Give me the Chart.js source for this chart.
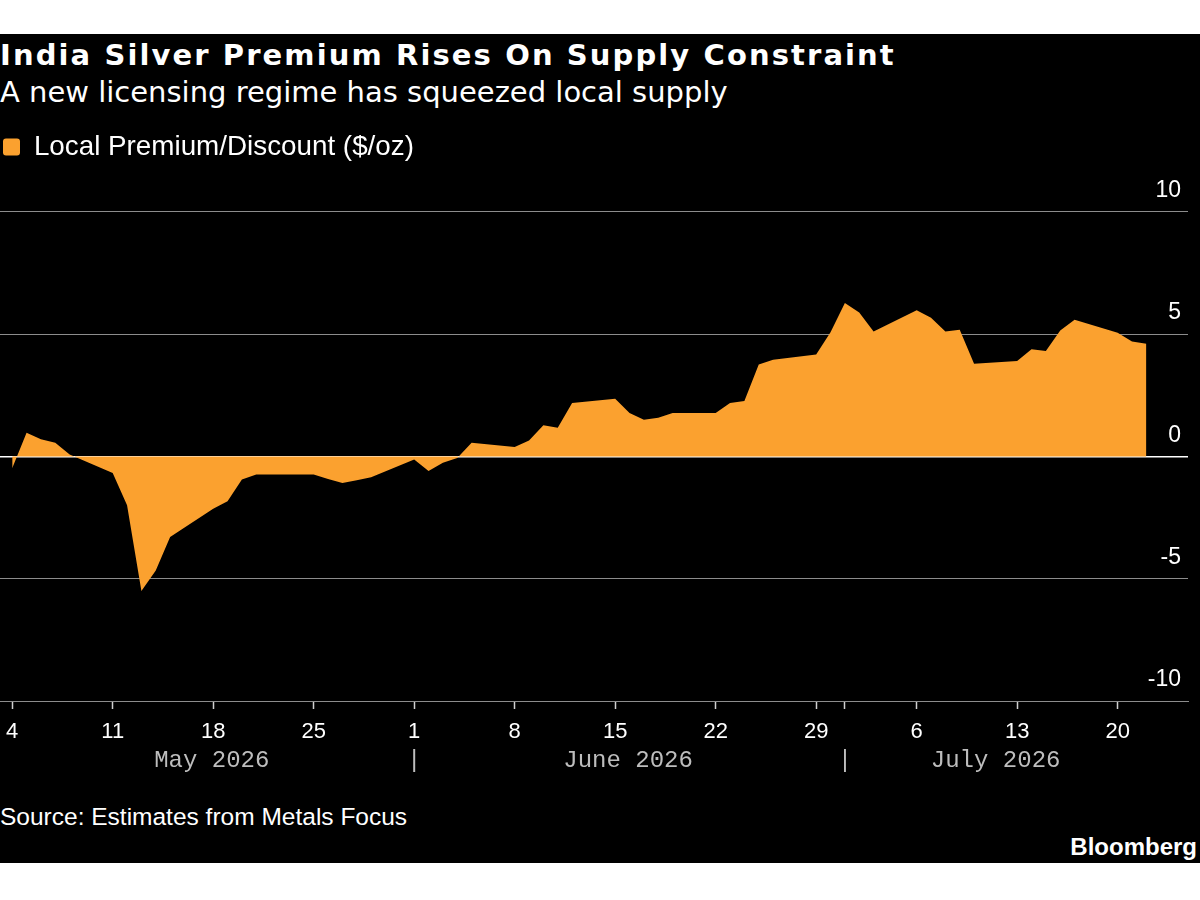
<!DOCTYPE html>
<html>
<head>
<meta charset="utf-8">
<script src="https://cdn.jsdelivr.net/npm/chart.js@4.4.1/dist/chart.umd.min.js"></script>
<style>
  body { margin: 0; width: 1200px; height: 900px; background: #fff; position: relative; overflow: hidden;
         font-family: "Liberation Sans", Arial, sans-serif; }
  #panel { position: absolute; left: 0; top: 34px; width: 1200px; height: 829px; background: #000; }
  .txt { position: absolute; left: 0; color: #fff; line-height: 1; white-space: nowrap; }
  #title { top: 41px; font-family: "DejaVu Sans", sans-serif; font-size: 29px; font-weight: bold; letter-spacing: 2.1px; }
  #subtitle { top: 78px; font-family: "DejaVu Sans", sans-serif; font-size: 29px; }
  #source { top: 805px; font-size: 24.5px; }
  #logo { top: 835px; left: auto; right: 3px; font-size: 24px; font-weight: bold; }
  #chartBox { position: absolute; left: 0; top: 100px; width: 1200px; height: 691px; }
</style>
</head>
<body>
<div id="panel"></div>
<div class="txt" id="title">India Silver Premium Rises On Supply Constraint</div>
<div class="txt" id="subtitle">A new licensing regime has squeezed local supply</div>
<div id="chartBox"><canvas id="chart_premium"></canvas></div>
<div class="txt" id="source">Source: Estimates from Metals Focus</div>
<div class="txt" id="logo">Bloomberg</div>
<script>
// trading days and the local premium/discount ($/oz)
const dates = [
  '2026-05-04','2026-05-05','2026-05-06','2026-05-07','2026-05-08',
  '2026-05-11','2026-05-12','2026-05-13','2026-05-14','2026-05-15',
  '2026-05-18','2026-05-19','2026-05-20','2026-05-21','2026-05-22',
  '2026-05-25','2026-05-26','2026-05-27','2026-05-28','2026-05-29',
  '2026-06-01','2026-06-02','2026-06-03','2026-06-04','2026-06-05',
  '2026-06-08','2026-06-09','2026-06-10','2026-06-11','2026-06-12',
  '2026-06-15','2026-06-16','2026-06-17','2026-06-18','2026-06-19',
  '2026-06-22','2026-06-23','2026-06-24','2026-06-25','2026-06-26',
  '2026-06-29','2026-06-30','2026-07-01','2026-07-02','2026-07-03',
  '2026-07-06','2026-07-07','2026-07-08','2026-07-09','2026-07-10',
  '2026-07-13','2026-07-14','2026-07-15','2026-07-16','2026-07-17',
  '2026-07-20','2026-07-21','2026-07-22'
];
const premium = [
  -0.48, 0.97, 0.70, 0.56, 0.08,
  -0.68, -2.00, -5.50, -4.66, -3.30,
  -2.14, -1.83, -0.94, -0.74, -0.74,
  -0.74, -0.92, -1.09, -0.97, -0.85,
  -0.13, -0.60, -0.26, -0.07, 0.56,
  0.38, 0.65, 1.27, 1.17, 2.18,
  2.36, 1.77, 1.50, 1.58, 1.77,
  1.77, 2.18, 2.26, 3.76, 3.95,
  4.17, 5.08, 6.27, 5.88, 5.11,
  5.97, 5.67, 5.11, 5.18, 3.79,
  3.90, 4.38, 4.31, 5.15, 5.59,
  5.06, 4.70, 4.61
];

// axis ticks (x values are days after May 4, 2026)
const xTickDays = [0, 7, 14, 21, 28, 35, 42, 49, 56, 58, 63, 70, 77];
const xTickLabels = ['4', '11', '18', '25', '1', '8', '15', '22', '29', '', '6', '13', '20'];
const monthDays = [13.9, 28, 42.9, 58, 68.5];
const monthLabels = ['May 2026', '|', 'June 2026', '|', 'July 2026'];
const yTicks = [-10, -5, 0, 5, 10];

const xMin = -0.85;
const xMax = 81.9;

const startDay = Date.UTC(2026, 4, 4);
function dayOf(s) {
  return (Date.parse(s + 'T00:00:00Z') - startDay) / 864e5;
}

const points = dates.map((d, i) => ({ x: dayOf(d), y: premium[i] }));

// extra room between the legend and the plot
const legendGap = {
  id: 'legendGap',
  beforeInit(chart) {
    const fit = chart.legend.fit;
    chart.legend.fit = function () {
      fit.bind(chart.legend)();
      this.height += 41;
    };
  }
};

new Chart(document.getElementById('chart_premium'), {
  type: 'line',
  data: {
    datasets: [{
      label: 'Local Premium/Discount ($/oz)',
      data: points,
      fill: 'origin',
      backgroundColor: '#fba12f',
      borderColor: '#fba12f',
      borderWidth: 0,
      pointRadius: 0,
      pointHoverRadius: 0,
      tension: 0
    }]
  },
  options: {
    responsive: true,
    maintainAspectRatio: false,
    animation: false,
    layout: { autoPadding: false, padding: { top: 30, right: 12, left: 0, bottom: 15 } },
    plugins: {
      legend: {
        position: 'top',
        align: 'start',
        labels: {
          color: '#ffffff',
          boxWidth: 17,
          boxHeight: 17,
          padding: 3,
          useBorderRadius: true,
          borderRadius: 3,
          font: { family: 'Liberation Sans', size: 27.8 }
        }
      },
      tooltip: { enabled: false }
    },
    scales: {
      // tick marks only
      x: {
        type: 'linear',
        position: 'bottom',
        min: xMin,
        max: xMax,
        afterBuildTicks: (scale) => { scale.ticks = xTickDays.map(v => ({ value: v })); },
        ticks: { display: false },
        grid: {
          drawOnChartArea: false,
          drawTicks: true,
          tickLength: 8,
          tickColor: '#d0d0d0',
          tickWidth: 1.5
        },
        border: { display: true, color: '#8c8c8c', width: 1 }
      },
      // day numbers
      xDay: {
        type: 'linear',
        position: 'bottom',
        min: xMin,
        max: xMax,
        afterBuildTicks: (scale) => { scale.ticks = xTickDays.map(v => ({ value: v })); },
        ticks: {
          autoSkip: false,
          maxRotation: 0,
          minRotation: 0,
          padding: 0,
          color: '#ffffff',
          font: { family: 'Liberation Sans', size: 22, lineHeight: '28px' },
          callback: (value, index) => xTickLabels[index]
        },
        grid: { display: false, drawTicks: true, tickLength: 9 },
        border: { display: false }
      },
      // month names
      xMonth: {
        type: 'linear',
        position: 'bottom',
        min: xMin,
        max: xMax,
        afterBuildTicks: (scale) => { scale.ticks = monthDays.map(v => ({ value: v })); },
        ticks: {
          autoSkip: false,
          maxRotation: 0,
          minRotation: 0,
          padding: 0,
          color: '#bdbdbd',
          font: { family: 'Liberation Mono', size: 24, lineHeight: '30px' },
          callback: (value, index) => monthLabels[index]
        },
        grid: { display: false, drawTicks: false },
        border: { display: false }
      },
      y: {
        position: 'right',
        min: -10,
        max: 10,
        afterBuildTicks: (scale) => { scale.ticks = yTicks.map(v => ({ value: v })); },
        ticks: {
          mirror: true,
          padding: -7,
          labelOffset: -21,
          color: '#ffffff',
          font: { family: 'Liberation Sans', size: 23 }
        },
        grid: {
          drawTicks: false,
          color: (ctx) => ctx.tick && ctx.tick.value === 0 ? '#ffffff' : '#8c8c8c',
          lineWidth: (ctx) => ctx.tick && ctx.tick.value === 0 ? 1.5 : 1
        },
        border: { display: false }
      }
    }
  },
  plugins: [legendGap]
});
</script>
</body>
</html>
